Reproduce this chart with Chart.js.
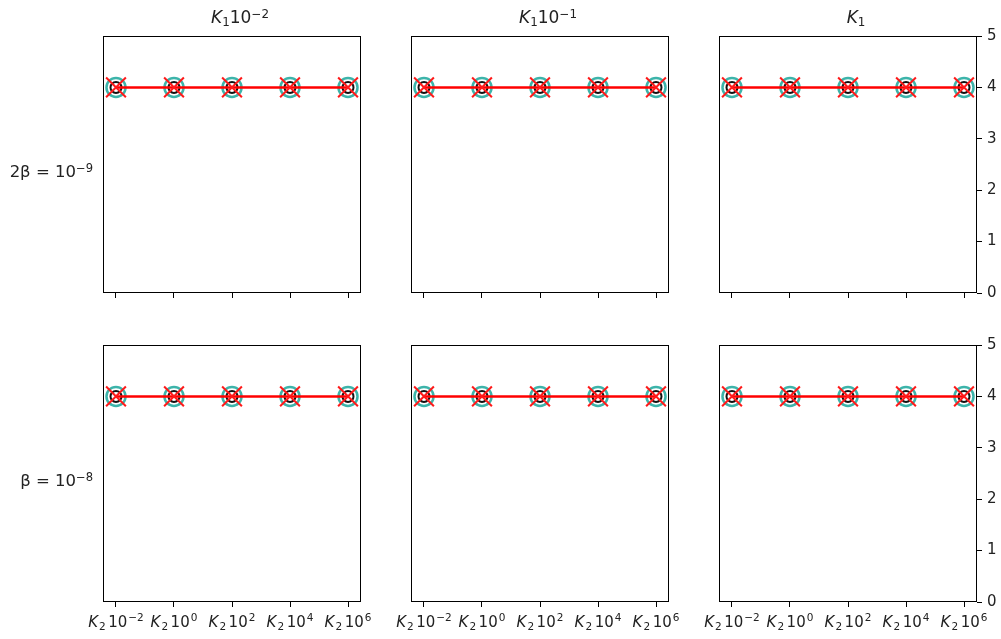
<!DOCTYPE html>
<html>
<head>
<meta charset="utf-8">
<script src="https://cdn.jsdelivr.net/npm/chart.js@4.4.1/dist/chart.umd.min.js"></script>
<style>
  body { margin: 0; background: #fff; width: 1001px; height: 639px; position: relative; overflow: hidden; font-family: "DejaVu Sans", sans-serif; }
  canvas { position: absolute; }
  .lbl { position: absolute; color: #222; white-space: nowrap; }
  .lbl i { font-style: italic; }
  .lbl sub, .lbl sup { font-size: 70%; line-height: 0; }
  .lbl sub { vertical-align: -0.25em; }
  .lbl sup { vertical-align: 0.45em; }
</style>
</head>
<body>
<script>
// données du graphique
var xValues = [0, 1, 2, 3, 4];
var xLabels = ['K₂10⁻²', 'K₂10⁰', 'K₂10²', 'K₂10⁴', 'K₂10⁶'];
var colTitles = ['K₁10⁻²', 'K₁10⁻¹', 'K₁'];
var rowLabels = ['2β = 10⁻⁹', 'β = 10⁻⁸'];
var yTicks = [0, 1, 2, 3, 4, 5];
// une série par marqueur (cercle cyan, cercle noir, croix rouge + ligne)
var serieCyan = [4, 4, 4, 4, 4];
var serieNoire = [4, 4, 4, 4, 4];
var serieRouge = [4, 4, 4, 4, 4];

// mise en page des panneaux
var colLefts = [103, 411, 719];
var rowTops = [36, 345];
var panelW = 258, panelH = 257;
var padL = 20, padT = 12, padR = 40, padB = 35;

var SUB = '₀₁₂₃₄₅₆₇₈₉', SUP = '⁰¹²³⁴⁵⁶⁷⁸⁹';

// découpe une étiquette unicode en morceaux (italique / indice / exposant)
function parseMath(str) {
    var parts = [];
    for (var i = 0; i < str.length; i++) {
        var ch = str[i], kind = 'n', t = ch;
        if (SUB.indexOf(ch) >= 0) { kind = 'sub'; t = String(SUB.indexOf(ch)); }
        else if (SUP.indexOf(ch) >= 0) { kind = 'sup'; t = String(SUP.indexOf(ch)); }
        else if (ch === '⁻') { kind = 'sup'; t = '\u2212'; }
        else if (ch === 'K') { kind = 'it'; }
        var last = parts[parts.length - 1];
        if (last && last.kind === kind) last.t += t;
        else parts.push({ kind: kind, t: t });
    }
    return parts;
}

function mathHtml(str) {
    return parseMath(str).map(function (p) {
        if (p.kind === 'it') return '<i>' + p.t + '</i>';
        if (p.kind === 'sub') return '<sub>' + p.t + '</sub>';
        if (p.kind === 'sup') return '<sup>' + p.t + '</sup>';
        return p.t;
    }).join('');
}

function fontFor(kind, size) {
    var s = (kind === 'sub' || kind === 'sup') ? size * 0.7 : size;
    return (kind === 'it' ? 'italic ' : '') + s + 'px "DejaVu Sans"';
}

function drawMath(ctx, str, cx, baseline, size) {
    var parts = parseMath(str);
    var total = 0;
    parts.forEach(function (p) {
        ctx.font = fontFor(p.kind, size);
        var gap = p.kind === 'sub' ? 2.5 : (p.kind === 'it' ? 1 : (p.kind === 'n' ? 1 : 0));
        p.w = ctx.measureText(p.t).width + gap;
        total += p.w;
    });
    var x = cx - total / 2;
    ctx.textAlign = 'left';
    ctx.textBaseline = 'alphabetic';
    parts.forEach(function (p) {
        ctx.font = fontFor(p.kind, size);
        var y = baseline;
        if (p.kind === 'sub') y += size * 0.22;
        if (p.kind === 'sup') y -= size * 0.42;
        ctx.fillText(p.t, x, y);
        x += p.w;
    });
}

// cadre autour de la zone de tracé + étiquettes de l'axe x
var boxPlugin = {
    id: 'box',
    afterDraw: function (chart, args, opts) {
        var a = chart.chartArea;
        var ctx = chart.ctx;
        ctx.save();
        ctx.strokeStyle = '#000';
        ctx.lineWidth = 1;
        ctx.strokeRect(Math.round(a.left) + 0.5, Math.round(a.top) + 0.5, Math.round(a.width) - 1, Math.round(a.height) - 1);
        if (opts.labels) {
            ctx.fillStyle = '#222';
            var sx = chart.scales.x;
            xValues.forEach(function (v, i) {
                drawMath(ctx, xLabels[i], sx.getPixelForValue(v), a.bottom + 25, 15);
            });
        }
        ctx.restore();
    }
};

function pts(vals) {
    return xValues.map(function (x, i) { return { x: x, y: vals[i] }; });
}

function noPad(scale) {
    scale.paddingLeft = 0; scale.paddingRight = 0;
    scale.paddingTop = 0; scale.paddingBottom = 0;
}

for (var r = 0; r < 2; r++) {
    for (var c = 0; c < 3; c++) {
        var canvas = document.createElement('canvas');
        canvas.width = panelW + padL + padR;
        canvas.height = panelH + padT + padB;
        canvas.style.left = (colLefts[c] - padL) + 'px';
        canvas.style.top = (rowTops[r] - padT) + 'px';
        document.body.appendChild(canvas);

        var bottomRow = r === 1;
        var rightCol = c === 2;

        new Chart(canvas.getContext('2d'), {
            type: 'scatter',
            data: {
                datasets: [
                    {
                        data: pts(serieRouge),
                        showLine: true,
                        borderColor: '#ff0000',
                        borderWidth: 2.5,
                        pointStyle: 'crossRot',
                        pointRadius: 14,
                        pointBorderWidth: 2,
                        pointBorderColor: '#ff1a1a',
                        pointBackgroundColor: 'transparent',
                        order: 0,
                        clip: false
                    },
                    {
                        data: pts(serieNoire),
                        pointStyle: 'circle',
                        pointRadius: 5.5,
                        pointBorderWidth: 2,
                        pointBorderColor: '#111',
                        pointBackgroundColor: 'transparent',
                        order: 1,
                        clip: false
                    },
                    {
                        data: pts(serieCyan),
                        pointStyle: 'circle',
                        pointRadius: 9.5,
                        pointBorderWidth: 2.5,
                        pointBorderColor: '#3cb4aa',
                        pointBackgroundColor: 'transparent',
                        order: 2,
                        clip: false
                    }
                ]
            },
            options: {
                responsive: false,
                animation: false,
                events: [],
                layout: { autoPadding: false, padding: { left: padL, top: padT, right: 0, bottom: 0 } },
                plugins: {
                    legend: { display: false },
                    tooltip: { enabled: false },
                    title: { display: false },
                    box: { labels: bottomRow }
                },
                scales: {
                    x: {
                        type: 'linear',
                        min: -0.224,
                        max: 4.224,
                        afterBuildTicks: function (scale) {
                            scale.ticks = xValues.map(function (v) { return { value: v }; });
                        },
                        afterFit: function (scale) { scale.height = padB; noPad(scale); },
                        grid: { display: true, drawOnChartArea: false, drawTicks: true, tickLength: 5, color: '#000' },
                        border: { display: false },
                        ticks: {
                            autoSkip: false,
                            maxRotation: 0,
                            callback: function () { return ''; }
                        }
                    },
                    y: {
                        display: rightCol,
                        position: 'right',
                        min: 0,
                        max: 5,
                        afterBuildTicks: function (scale) {
                            scale.ticks = yTicks.map(function (v) { return { value: v }; });
                        },
                        afterFit: function (scale) { scale.width = padR; noPad(scale); },
                        grid: { display: true, drawOnChartArea: false, drawTicks: true, tickLength: 5, color: '#000' },
                        border: { display: false },
                        ticks: {
                            padding: 5,
                            color: '#222',
                            font: { family: 'DejaVu Sans', size: 15 }
                        }
                    }
                }
            },
            plugins: [boxPlugin]
        });
    }
}

// titres des colonnes et des lignes
colTitles.forEach(function (t, c) {
    var d = document.createElement('div');
    d.className = 'lbl';
    d.innerHTML = mathHtml(t);
    d.style.fontSize = '17px';
    d.style.lineHeight = '17px';
    d.style.top = '9px';
    d.style.left = (colLefts[c] + panelW / 2 + 8) + 'px';
    d.style.transform = 'translateX(-50%)';
    document.body.appendChild(d);
});
rowLabels.forEach(function (t, r) {
    var d = document.createElement('div');
    d.className = 'lbl';
    d.innerHTML = mathHtml(t);
    d.style.fontSize = '16.5px';
    d.style.lineHeight = '16px';
    d.style.right = (1001 - 93) + 'px';
    d.style.top = (rowTops[r] + panelH / 2 - 1) + 'px';
    document.body.appendChild(d);
});
</script>
</body>
</html>
